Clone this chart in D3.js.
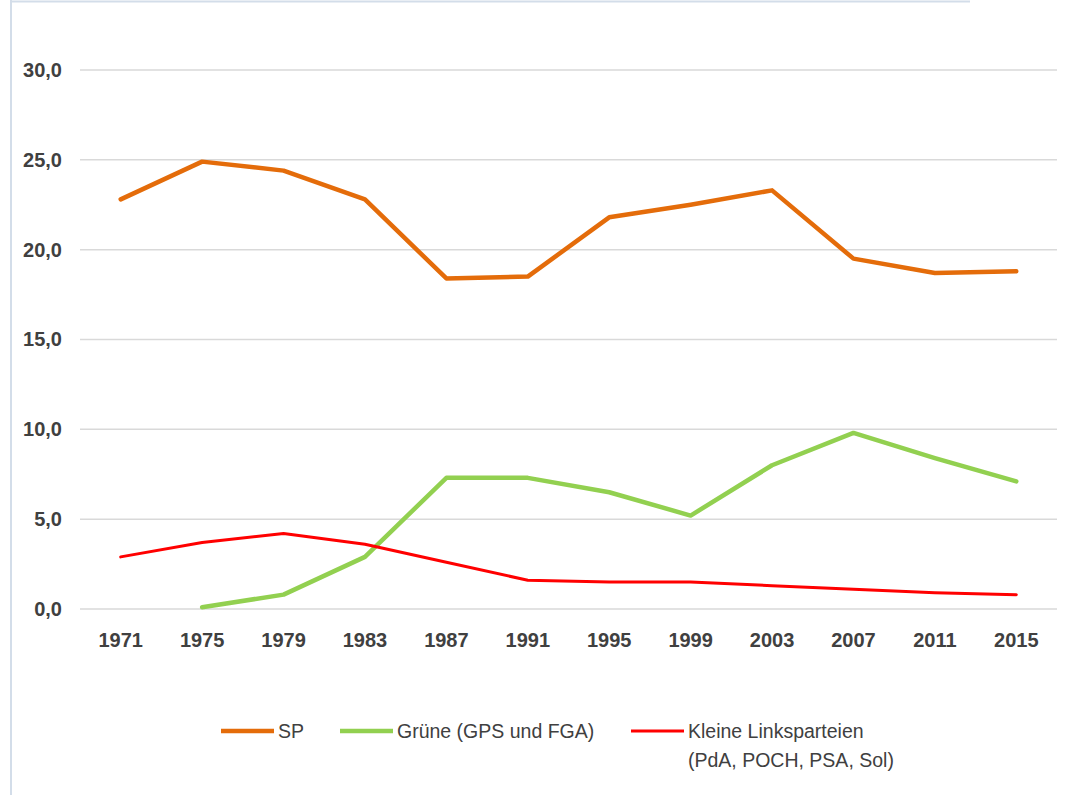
<!DOCTYPE html>
<html>
<head>
<meta charset="utf-8">
<script src="https://cdn.jsdelivr.net/npm/d3@7"></script>
<style>
  body { margin: 0; background: #fff; }
  svg { display: block; }
</style>
</head>
<body>
<div id="chart"></div>
<script>
// data
var years = ["1971", "1975", "1979", "1983", "1987", "1991", "1995", "1999", "2003", "2007", "2011", "2015"];
var sp = [22.8, 24.9, 24.4, 22.8, 18.4, 18.5, 21.8, 22.5, 23.3, 19.5, 18.7, 18.8];
var gruene = [null, 0.1, 0.8, 2.9, 7.3, 7.3, 6.5, 5.2, 8.0, 9.8, 8.4, 7.1];
var kleine = [2.9, 3.7, 4.2, 3.6, 2.6, 1.6, 1.5, 1.5, 1.3, 1.1, 0.9, 0.8];
var yTicks = [0, 5, 10, 15, 20, 25, 30];

var series = [
  {name: "SP", lines: ["SP"], values: sp, color: "#e46c0a", width: 4.5},
  {name: "Grüne", lines: ["Grüne (GPS und FGA)"], values: gruene, color: "#92d050", width: 4.5},
  {name: "Kleine", lines: ["Kleine Linksparteien", "(PdA, POCH, PSA, Sol)"], values: kleine, color: "#ff0000", width: 3}
];

var W = 1086, H = 795;
var margin = {top: 0, left: 80, right: 29, bottom: 186};
var width = W - margin.left - margin.right,
    height = 609 - margin.top;

var svg = d3.select("#chart").append("svg")
    .attr("width", W)
    .attr("height", H);

// frame edges
svg.append("line")
    .attr("x1", 11).attr("x2", 11).attr("y1", 0).attr("y2", H)
    .style("stroke", "#d3dde9").style("stroke-width", 2);
svg.append("line")
    .attr("x1", 10).attr("x2", 970).attr("y1", 1.5).attr("y2", 1.5)
    .style("stroke", "#d3dde9").style("stroke-width", 2);

var g = svg.append("g")
    .attr("transform", "translate(" + margin.left + "," + margin.top + ")");

var x = d3.scaleBand()
    .domain(years)
    .range([0, width]);

var y = d3.scaleLinear()
    .domain([0, 30])
    .range([height, 70]);

// gridlines
g.selectAll(".grid")
    .data(yTicks)
  .enter().append("line")
    .attr("class", "grid")
    .attr("x1", 0)
    .attr("x2", width)
    .attr("y1", function(d) { return y(d); })
    .attr("y2", function(d) { return y(d); })
    .style("stroke", "#d9d9d9")
    .style("stroke-width", 1.5);

var yAxis = d3.axisLeft(y)
    .tickValues(yTicks)
    .tickSize(0)
    .tickPadding(18)
    .tickFormat(function(d) { return d3.format(".1f")(d).replace(".", ","); });

g.append("g")
    .attr("class", "y axis")
    .call(yAxis)
    .call(function(s) { s.select(".domain").remove(); });

var xAxis = d3.axisBottom(x)
    .tickSize(0)
    .tickPadding(24);

g.append("g")
    .attr("class", "x axis")
    .attr("transform", "translate(0," + height + ")")
    .call(xAxis)
    .call(function(s) { s.select(".domain").remove(); });

g.selectAll(".axis text")
    .style("font-family", "'Liberation Sans', Arial, sans-serif")
    .style("font-size", "20px")
    .style("font-weight", "bold")
    .style("fill", "#404040");

var line = d3.line()
    .defined(function(d) { return d != null; })
    .x(function(d, i) { return x(years[i]) + x.bandwidth() / 2; })
    .y(function(d) { return y(d); });

g.selectAll(".series")
    .data(series)
  .enter().append("path")
    .attr("class", "series")
    .attr("d", function(d) { return line(d.values); })
    .style("fill", "none")
    .style("stroke", function(d) { return d.color; })
    .style("stroke-width", function(d) { return d.width; })
    .style("stroke-linejoin", "round")
    .style("stroke-linecap", "round");

//Legend
var legendX = [221, 340, 631];
var legend = svg.selectAll(".legend")
    .data(series)
  .enter().append("g")
    .attr("class", "legend")
    .attr("transform", function(d, i) { return "translate(" + legendX[i] + ",731)"; });

legend.append("line")
    .attr("x1", 0)
    .attr("x2", 53)
    .style("stroke", function(d) { return d.color; })
    .style("stroke-width", function(d) { return d.width; });

legend.append("text")
    .style("font-family", "'Liberation Sans', Arial, sans-serif")
    .style("font-size", "19.5px")
    .style("fill", "#404040")
    .selectAll("tspan")
    .data(function(d) { return d.lines; })
  .enter().append("tspan")
    .attr("x", 57)
    .attr("y", function(d, i) { return i * 29; })
    .attr("dy", ".35em")
    .text(function(d) { return d; });
</script>
</body>
</html>
